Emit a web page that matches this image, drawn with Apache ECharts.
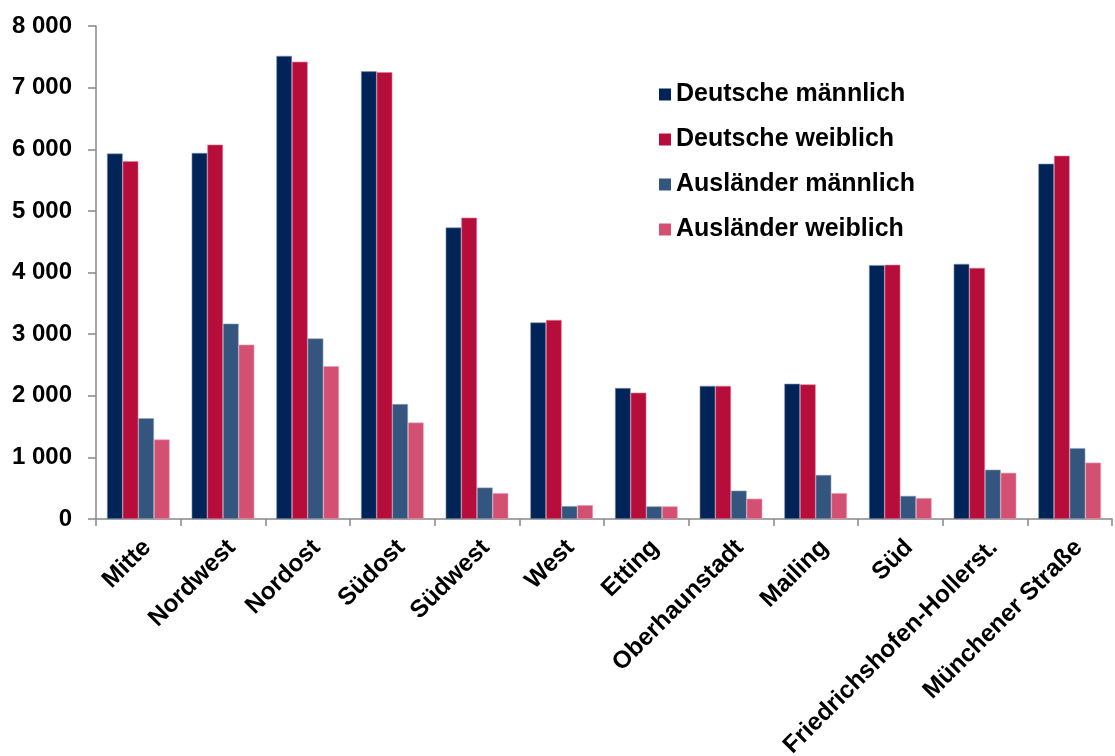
<!DOCTYPE html>
<html>
<head>
<meta charset="utf-8">
<script src="https://cdn.jsdelivr.net/npm/echarts@6/dist/echarts.min.js"></script>
<style>html,body{margin:0;padding:0;background:#fff}#c{width:1115px;height:756px}</style>
</head>
<body>
<div id="c"></div>
<script>
const categories = ['Mitte','Nordwest','Nordost','Südost','Südwest','West','Etting','Oberhaunstadt','Mailing','Süd','Friedrichshofen-Hollerst.','Münchener Straße'];
const deutscheMaennlich = [5930, 5940, 7515, 7265, 4730, 3190, 2125, 2160, 2195, 4120, 4140, 5765];
const deutscheWeiblich  = [5805, 6075, 7420, 7250, 4890, 3230, 2050, 2160, 2185, 4125, 4075, 5895];
const auslaenderMaennlich = [1635, 3170, 2930, 1865, 510, 210, 205, 460, 715, 375, 800, 1150];
const auslaenderWeiblich  = [1290, 2830, 2480, 1565, 420, 225, 205, 330, 420, 340, 750, 915];
const seriesNames = ['Deutsche männlich','Deutsche weiblich','Ausländer männlich','Ausländer weiblich'];
const yTicks = {min: 0, max: 8000, interval: 1000};

const colors = ['#002457','#b70d3a','#34557e','#d45072'];
const borders = ['#7f93b3','#e07d98','#8fa3bd','#eba3b6'];
const font = 'Liberation Sans, Arial, sans-serif';
const fmt = v => String(v).replace(/\B(?=(\d{3})+(?!\d))/g, ' ');
const dataSets = [deutscheMaennlich, deutscheWeiblich, auslaenderMaennlich, auslaenderWeiblich];

const chart = echarts.init(document.getElementById('c'), null, {renderer: 'canvas'});
chart.setOption({
  animation: false,
  backgroundColor: '#fff',
  grid: {left: 96, right: 3, top: 26, bottom: 237, containLabel: false, outerBoundsMode: 'none'},
  legend: {
    orient: 'vertical', left: 659, top: 82, padding: 0,
    itemWidth: 12, itemHeight: 12, itemGap: 20,
    icon: 'rect',
    itemStyle: {borderWidth: 0},
    textStyle: {fontFamily: font, fontWeight: 'bold', fontSize: 25, color: '#000', lineHeight: 24},
    data: seriesNames
  },
  xAxis: {
    type: 'category', data: categories,
    axisLine: {lineStyle: {color: '#888', width: 1.5}},
    axisTick: {show: true, length: 7, alignWithLabel: false, lineStyle: {color: '#888', width: 1.5}},
    axisLabel: {interval: 0, rotate: 45, margin: 16, verticalAlign: 'top', fontFamily: font, fontWeight: 'bold', fontSize: 24.5, color: '#000'}
  },
  yAxis: {
    type: 'value', min: yTicks.min, max: yTicks.max, interval: yTicks.interval,
    splitLine: {show: false},
    axisLine: {show: true, lineStyle: {color: '#888', width: 1.5}},
    axisTick: {show: true, length: 8, lineStyle: {color: '#888', width: 1.5}},
    axisLabel: {margin: 24, fontFamily: font, fontWeight: 'bold', fontSize: 24, color: '#000', formatter: fmt}
  },
  series: seriesNames.map((n, i) => ({
    name: n, type: 'bar', data: dataSets[i],
    barGap: '0%', barCategoryGap: '26%',
    itemStyle: {color: colors[i], borderColor: borders[i], borderWidth: 0.6}
  }))
});
</script>
</body>
</html>
